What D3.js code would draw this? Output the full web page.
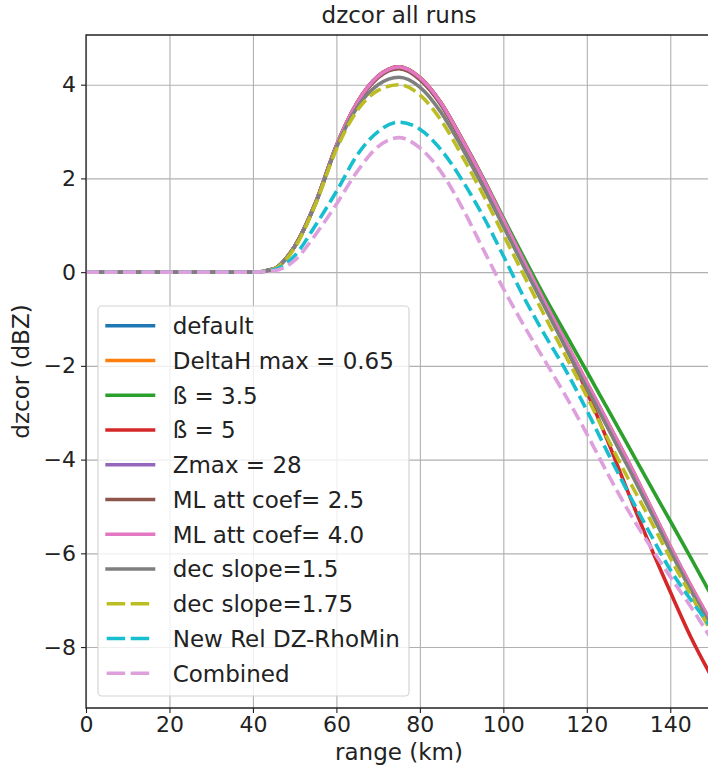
<!DOCTYPE html>
<html>
<head>
<meta charset="utf-8">
<script src="https://cdn.jsdelivr.net/npm/d3@7"></script>
<style>
  body { margin: 0; background: #fff; }
  svg { display: block; font-family: "DejaVu Sans", sans-serif; }
</style>
</head>
<body>
<svg id="chart" width="708" height="774"></svg>
<script>
// range (km) where each run was sampled
const ranges = [0, 5, 10, 15, 20, 25, 30, 35, 40, 45, 50, 55, 60, 65, 70, 75, 80, 85, 90, 95, 100,
  105, 110, 115, 120, 125, 130, 135, 140, 145, 150];

// dzcor (dBZ) for each run
const defaultRun = [0, 0, 0, 0, 0, 0, 0, 0, 0, 0.07, 0.55, 1.47, 2.69, 3.61, 4.17, 4.37, 4.14, 3.61, 2.84, 2.01, 1.11,
  0.21, -0.66, -1.51, -2.36, -3.21, -4.06, -4.96, -5.86, -6.71, -7.51];
const deltaH065 = [0, 0, 0, 0, 0, 0, 0, 0, 0, 0.07, 0.55, 1.48, 2.7, 3.62, 4.18, 4.38, 4.15, 3.62, 2.85, 2.02, 1.12,
  0.22, -0.65, -1.5, -2.35, -3.2, -4.05, -4.95, -5.85, -6.7, -7.5];
const beta35 = [0, 0, 0, 0, 0, 0, 0, 0, 0, 0.07, 0.55, 1.48, 2.7, 3.62, 4.18, 4.38, 4.15, 3.62, 2.86, 2.04, 1.16,
  0.3, -0.54, -1.33, -2.12, -2.92, -3.72, -4.52, -5.31, -6.11, -6.92];
const beta5 = [0, 0, 0, 0, 0, 0, 0, 0, 0, 0.07, 0.55, 1.48, 2.7, 3.62, 4.18, 4.38, 4.15, 3.62, 2.85, 2.02, 1.11,
  0.2, -0.7, -1.6, -2.55, -3.6, -4.72, -5.8, -6.82, -7.8, -8.65];
const zmax28 = [0, 0, 0, 0, 0, 0, 0, 0, 0, 0.07, 0.55, 1.47, 2.69, 3.6, 4.16, 4.36, 4.13, 3.6, 2.83, 2.0, 1.1,
  0.2, -0.67, -1.52, -2.37, -3.22, -4.07, -4.97, -5.87, -6.72, -7.52];
const mlAtt25 = [0, 0, 0, 0, 0, 0, 0, 0, 0, 0.07, 0.55, 1.47, 2.68, 3.59, 4.15, 4.34, 4.11, 3.58, 2.81, 1.98, 1.08,
  0.18, -0.69, -1.54, -2.39, -3.24, -4.09, -4.99, -5.89, -6.74, -7.54];
const mlAtt40 = [0, 0, 0, 0, 0, 0, 0, 0, 0, 0.07, 0.55, 1.48, 2.7, 3.62, 4.18, 4.38, 4.15, 3.62, 2.85, 2.02, 1.12,
  0.22, -0.65, -1.5, -2.35, -3.2, -4.05, -4.95, -5.85, -6.7, -7.5];
const decSlope15 = [0, 0, 0, 0, 0, 0, 0, 0, 0, 0.07, 0.55, 1.47, 2.66, 3.52, 4.0, 4.16, 3.95, 3.42, 2.67, 1.85, 0.98,
  0.1, -0.76, -1.62, -2.47, -3.32, -4.18, -5.06, -5.95, -6.8, -7.6];
const decSlope175 = [0, 0, 0, 0, 0, 0, 0, 0, 0, 0.07, 0.52, 1.45, 2.62, 3.45, 3.88, 4.0, 3.78, 3.25, 2.5, 1.68, 0.8,
  -0.08, -0.95, -1.8, -2.65, -3.55, -4.42, -5.25, -6.1, -6.9, -7.7];
const newRel = [0, 0, 0, 0, 0, 0, 0, 0, 0, 0.05, 0.35, 1.0, 1.72, 2.5, 3.0, 3.2, 3.05, 2.62, 1.98, 1.22, 0.35,
  -0.55, -1.35, -2.1, -2.95, -3.85, -4.72, -5.55, -6.35, -7.0, -7.6];
const combined = [0, 0, 0, 0, 0, 0, 0, 0, 0, 0.03, 0.25, 0.8, 1.45, 2.15, 2.68, 2.87, 2.65, 2.15, 1.4, 0.52, -0.35,
  -1.15, -1.9, -2.65, -3.45, -4.3, -5.1, -5.82, -6.5, -7.15, -7.85];

const runNames = ["default", "DeltaH max = 0.65", "ß = 3.5", "ß = 5", "Zmax = 28", "ML att coef= 2.5",
  "ML att coef= 4.0", "dec slope=1.5", "dec slope=1.75", "New Rel DZ-RhoMin", "Combined"];
const runValues = [defaultRun, deltaH065, beta35, beta5, zmax28, mlAtt25, mlAtt40, decSlope15, decSlope175, newRel, combined];
const runColors = ["#1f77b4", "#ff7f0e", "#2ca02c", "#d62728", "#9467bd", "#8c564b", "#e377c2", "#7f7f7f",
  "#bcbd22", "#17becf", "plum"];
const runDashed = [false, false, false, false, false, false, false, false, true, true, true];

const xTicks = [0, 20, 40, 60, 80, 100, 120, 140];
const yTicks = [-8, -6, -4, -2, 0, 2, 4];

let svg = d3.select("#chart"),
  plotLeft = 86, plotRight = 712, plotTop = 35, plotBottom = 708;

let x = d3.scaleLinear().domain([0, 150]).range([plotLeft, plotRight]);
let y = d3.scaleLinear().domain([-9.3, 5.06]).range([plotBottom, plotTop]);

// grid
svg.append("g")
  .attr("transform", "translate(0," + plotBottom + ")")
  .call(d3.axisBottom(x).tickValues(xTicks).tickSize(-(plotBottom - plotTop)).tickFormat(""))
  .call(g => g.select(".domain").remove())
  .selectAll("line").attr("stroke", "#b0b0b0").attr("stroke-width", 1.1);
svg.append("g")
  .attr("transform", "translate(" + plotLeft + ",0)")
  .call(d3.axisLeft(y).tickValues(yTicks).tickSize(-(plotRight - plotLeft)).tickFormat(""))
  .call(g => g.select(".domain").remove())
  .selectAll("line").attr("stroke", "#b0b0b0").attr("stroke-width", 1.1);

svg.append("clipPath").attr("id", "plot-clip")
  .append("rect").attr("x", plotLeft).attr("y", plotTop)
  .attr("width", plotRight - plotLeft).attr("height", plotBottom - plotTop);

let line = d3.line()
  .x((d, i) => x(ranges[i]))
  .y(d => y(d))
  .curve(d3.curveMonotoneX);

svg.append("g").attr("clip-path", "url(#plot-clip)")
  .selectAll("path")
  .data(runValues)
  .join("path")
  .attr("d", line)
  .attr("fill", "none")
  .attr("stroke", (d, i) => runColors[i])
  .attr("stroke-width", 3.6)
  .attr("stroke-dasharray", (d, i) => runDashed[i] ? "13,5.5" : null);

// axes
let xAxis = svg.append("g")
  .attr("transform", "translate(0," + plotBottom + ")")
  .call(d3.axisBottom(x).tickValues(xTicks).tickSize(5).tickPadding(3));
let yAxis = svg.append("g")
  .attr("transform", "translate(" + plotLeft + ",0)")
  .call(d3.axisLeft(y).tickValues(yTicks).tickSize(5).tickPadding(5));
[xAxis, yAxis].forEach(a => {
  a.select(".domain").remove();
  a.selectAll("line").attr("stroke", "#222").attr("stroke-width", 1.1);
  a.selectAll("text").attr("font-size", 22).attr("fill", "#222").attr("font-family", "DejaVu Sans");
});

// spines
svg.append("path")
  .attr("d", "M" + plotRight + "," + plotTop + "H" + plotLeft + "V" + plotBottom + "H" + plotRight)
  .attr("fill", "none").attr("stroke", "#222").attr("stroke-width", 1.3);

svg.append("text").attr("x", (plotLeft + plotRight) / 2).attr("y", 23)
  .attr("text-anchor", "middle").attr("font-size", 23).attr("fill", "#222").text("dzcor all runs");
svg.append("text").attr("x", (plotLeft + plotRight) / 2).attr("y", 760)
  .attr("text-anchor", "middle").attr("font-size", 23).attr("fill", "#222").text("range (km)");
svg.append("text").attr("transform", "translate(29," + (plotTop + plotBottom) / 2 + ") rotate(-90)")
  .attr("text-anchor", "middle").attr("font-size", 23).attr("fill", "#222").text("dzcor (dBZ)");

// legend
let legend = svg.append("g");
legend.append("rect")
  .attr("x", 98).attr("y", 306).attr("width", 311).attr("height", 390).attr("rx", 4)
  .attr("fill", "#fff").attr("fill-opacity", 0.8).attr("stroke", "#d4d4d4").attr("stroke-width", 1.2);
let rowH = 34.76;
runNames.forEach((name, i) => {
  let cy = 325.7 + i * rowH;
  legend.append("line")
    .attr("x1", runDashed[i] ? 106.7 : 105.3).attr("x2", runDashed[i] ? 149.5 : 155.3)
    .attr("y1", cy).attr("y2", cy)
    .attr("stroke", runColors[i]).attr("stroke-width", 3.6)
    .attr("stroke-dasharray", runDashed[i] ? "18.5,5.5" : null);
  legend.append("text")
    .attr("x", 172.7).attr("y", cy + 8.3)
    .attr("font-size", 23).attr("fill", "#222")
    .text(name);
});
</script>
</body>
</html>
